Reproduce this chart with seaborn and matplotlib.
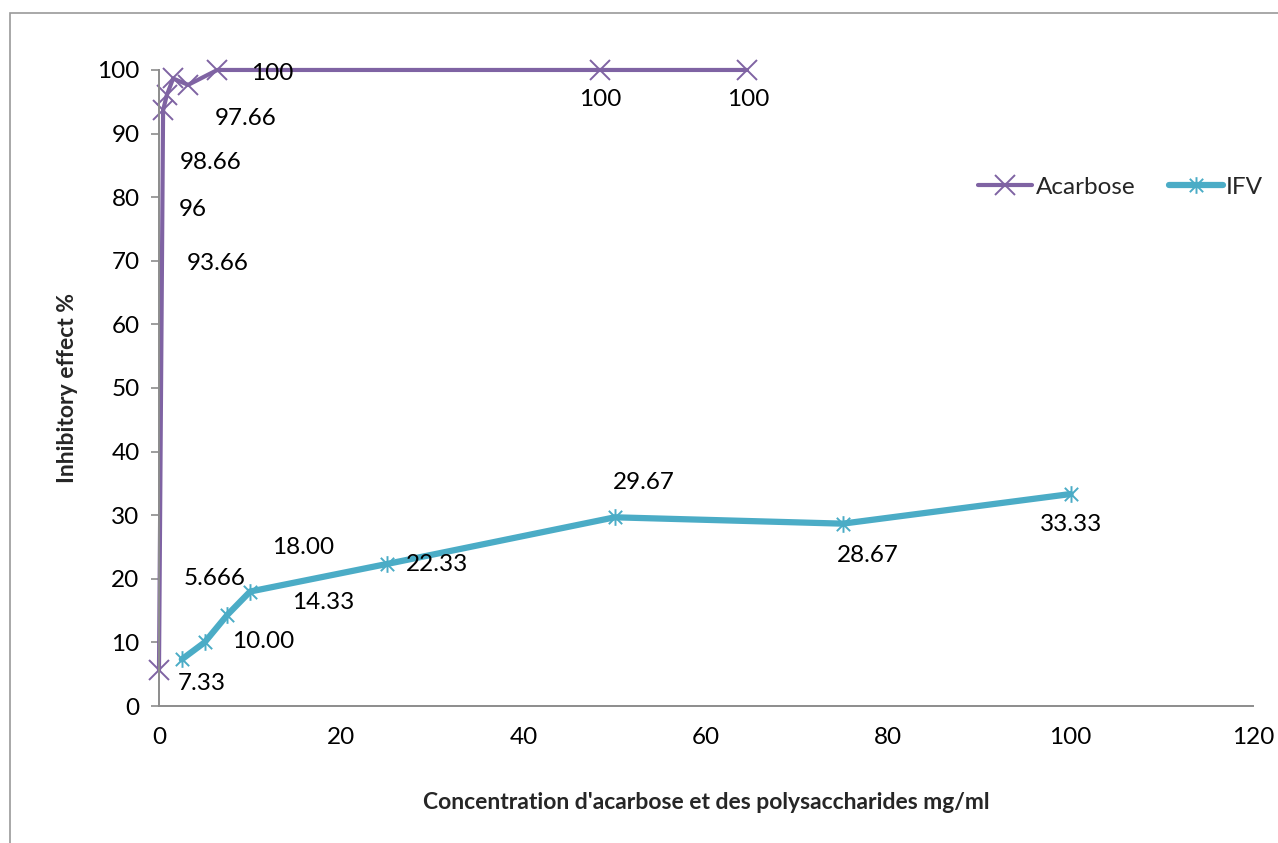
import matplotlib
matplotlib.use("Agg")
import matplotlib.pyplot as plt
from matplotlib.path import Path
from matplotlib.patches import Rectangle
import seaborn as sns

# Acarbose series (concentration mg/ml, inhibition %)
acarbose_x = [0, 0.45, 0.85, 1.55, 3.2, 6.4, 48.4, 64.5]
acarbose_y = [5.666, 93.66, 96, 98.66, 97.66, 100, 100, 100]
acarbose_labels = ["5.666", "93.66", "96", "98.66", "97.66", "100", "100", "100"]

# IFV polysaccharide series
ifv_x = [2.5, 5, 7.5, 10, 25, 50, 75, 100]
ifv_y = [7.33, 10.00, 14.33, 18.00, 22.33, 29.67, 28.67, 33.33]
ifv_labels = ["7.33", "10.00", "14.33", "18.00", "22.33", "29.67", "28.67", "33.33"]

x_ticks = [0, 20, 40, 60, 80, 100, 120]
y_ticks = [0, 10, 20, 30, 40, 50, 60, 70, 80, 90, 100]

# Where each data label sits (data coordinates)
acarbose_label_pos = [(6.1, 20.1), (6.4, 69.5), (3.7, 78.1), (5.7, 85.4),
                      (9.5, 92.3), (12.4, 99.5), (48.4, 95.3), (64.6, 95.3)]
ifv_label_pos = [(4.7, 3.6), (11.4, 10.2), (18.0, 16.2), (15.8, 25.0),
                 (30.5, 22.2), (53.2, 35.1), (77.7, 23.6), (100.0, 28.6)]

sns.set_theme(style="white")
plt.rcParams["font.family"] = ["Lato", "DejaVu Sans"]

purple = "#7F63A3"
teal = "#4BACC6"
grey = "#8C8C8C"
fs = 17.5

fig = plt.figure(figsize=(12.78, 8.43), dpi=100)
ax = fig.add_axes([0.1244, 0.1625, 0.856, 0.7545])

# outer chart frame
fig.patches.append(Rectangle((10 / 1278, -0.1), 1.2, 1.1 - 13 / 843,
                             transform=fig.transFigure, fill=False,
                             edgecolor="#9A9A9A", linewidth=1.2))

# star marker: an x crossed by a vertical bar
star = Path([(-1, -1), (1, 1), (-1, 1), (1, -1), (0, -1.25), (0, 1.25)],
            [Path.MOVETO, Path.LINETO, Path.MOVETO, Path.LINETO,
             Path.MOVETO, Path.LINETO])

sns.lineplot(x=acarbose_x, y=acarbose_y, ax=ax, color=purple, linewidth=3.0,
             marker="x", markersize=14, markeredgewidth=1.4,
             markeredgecolor=purple, estimator=None, sort=False,
             label="Acarbose")
sns.lineplot(x=ifv_x, y=ifv_y, ax=ax, color=teal, linewidth=4.5,
             marker=star, markersize=12, markeredgewidth=1.4,
             markeredgecolor=teal, estimator=None, sort=False,
             label="IFV")

for (lx, ly), txt in zip(acarbose_label_pos, acarbose_labels):
    ax.text(lx, ly, txt, ha="center", va="center", fontsize=fs, color="black")
for (lx, ly), txt in zip(ifv_label_pos, ifv_labels):
    ax.text(lx, ly, txt, ha="center", va="center", fontsize=fs, color="black")

ax.set_xlim(0, 120)
ax.set_ylim(0, 100)
ax.set_xticks(x_ticks)
ax.set_yticks(y_ticks)
ax.set_xticklabels([str(t) for t in x_ticks])
ax.set_yticklabels([str(t) for t in y_ticks])
ax.tick_params(axis="x", length=0, pad=15, labelsize=fs, colors="black")
ax.tick_params(axis="y", length=6, width=1.2, direction="out", left=True,
               color=grey, pad=8, labelsize=fs, labelcolor="black")

for side in ("top", "right"):
    ax.spines[side].set_visible(False)
for side in ("left", "bottom"):
    ax.spines[side].set_color(grey)
    ax.spines[side].set_linewidth(1.4)

ax.set_xlabel("Concentration d'acarbose et des polysaccharides mg/ml",
              fontsize=16.5, fontweight="bold", labelpad=32)
ax.set_ylabel("Inhibitory effect %", fontsize=16.5, fontweight="bold",
              labelpad=14)

leg = ax.legend(loc="center left", bbox_to_anchor=(0.729, 0.816), ncol=2,
                frameon=False, fontsize=fs, handlelength=2.2,
                columnspacing=1.4, handletextpad=0.15)

for line in ax.get_lines():
    line.set_clip_on(False)

fig.savefig("out.png", dpi=100)
